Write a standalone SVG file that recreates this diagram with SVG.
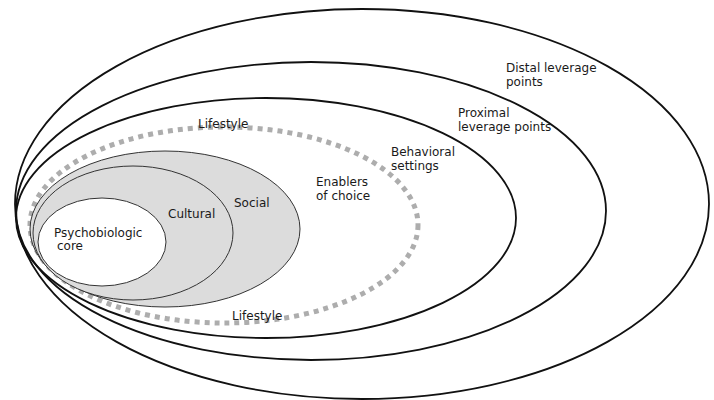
<svg xmlns="http://www.w3.org/2000/svg" width="714" height="400" viewBox="0 0 714 400">
<style>
.ring{fill:none;stroke:#111;stroke-width:1.8}
.inner{fill:#dcdcdc;stroke:#333;stroke-width:1}
.core{fill:#fff;stroke:#333;stroke-width:1}
.dots{fill:none;stroke:#adadad;stroke-width:5;stroke-dasharray:5 5}
text{font-family:"DejaVu Sans",Verdana,sans-serif;font-size:12px;fill:#1a1a1a}
</style>
<rect width="714" height="400" fill="#fff"/>
<g id="distal">
<ellipse class="ring" cx="362" cy="204" rx="347" ry="195"/>
<text x="506" y="72">Distal leverage</text>
<text x="506" y="86">points</text>
</g>
<g id="proximal">
<ellipse class="ring" cx="311" cy="211" rx="295" ry="149"/>
<text x="458" y="117">Proximal</text>
<text x="458" y="131">leverage points</text>
</g>
<g id="behavioral">
<ellipse class="ring" cx="266" cy="218" rx="250" ry="120"/>
<text x="391" y="156">Behavioral</text>
<text x="391" y="170">settings</text>
</g>
<g id="lifestyle">
<ellipse class="dots" cx="224" cy="225" rx="194" ry="98"/>
<text x="198" y="128">Lifestyle</text>
<text x="232" y="320">Lifestyle</text>
<text x="316" y="186">Enablers</text>
<text x="316" y="200">of choice</text>
</g>
<g id="social">
<ellipse class="inner" cx="165" cy="229" rx="135" ry="78"/>
<text x="234" y="207">Social</text>
</g>
<g id="cultural">
<ellipse class="inner" cx="133" cy="233" rx="100" ry="67"/>
<text x="168" y="218">Cultural</text>
</g>
<g id="core">
<ellipse class="core" cx="102" cy="242" rx="64" ry="44"/>
<text x="54" y="237">Psychobiologic</text>
<text x="57" y="250">core</text>
</g>
<g id="connectors"/>
</svg>
